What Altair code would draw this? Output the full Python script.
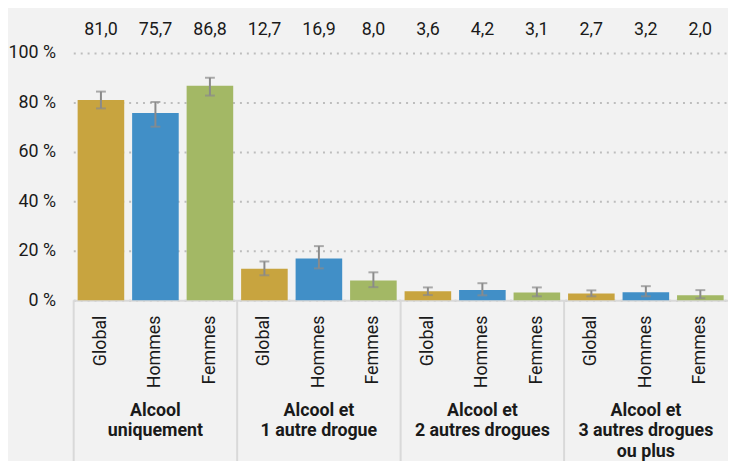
import altair as alt
import pandas as pd

groups = ["Alcool\nuniquement", "Alcool et\n1 autre drogue",
          "Alcool et\n2 autres drogues", "Alcool et\n3 autres drogues\nou plus"]
sexes = ["Global", "Hommes", "Femmes"]
values = [[81.0, 75.7, 86.8], [12.7, 16.9, 8.0], [3.6, 4.2, 3.1], [2.7, 3.2, 2.0]]
err_lo = [[77.6, 70.2, 82.8], [10.1, 12.9, 5.3], [2.1, 2.0, 1.6], [1.6, 1.6, 0.8]]
err_hi = [[84.4, 80.2, 90.0], [15.7, 21.9, 11.3], [5.2, 6.9, 5.2], [4.0, 5.7, 4.1]]
colors = ["#c8a43f", "#418fc7", "#a3b865"]
y_ticks = [0, 20, 40, 60, 80, 100]

FONT = "Roboto"
TXT = "#1a1a1a"

rows = []
keys = []
for gi, g in enumerate(groups):
    for si, s in enumerate(sexes):
        key = f"{gi}|{s}"
        keys.append(key)
        v = values[gi][si]
        rows.append({"key": key, "group": g, "sex": s, "value": v,
                     "lo": err_lo[gi][si], "hi": err_hi[gi][si],
                     "label": f"{v:.1f}".replace(".", ",")})
df = pd.DataFrame(rows)

gdf = pd.DataFrame({"key": [f"{i}|Hommes" for i in range(len(groups))],
                    "glabel": groups,
                    "sep": [f"{i}|Global" for i in range(len(groups))]})

xscale = alt.Scale(domain=keys, paddingInner=0.145, paddingOuter=0.08)
y_scale = alt.Scale(domain=[0, 100], nice=False)

x_enc = alt.X("key:N", scale=xscale, title=None,
              axis=alt.Axis(labelExpr="split(datum.label, '|')[1]",
                            labelAngle=270, labelAlign="right", labelBaseline="middle",
                            labelPadding=15, labelFontSize=18, labelFont=FONT,
                            labelColor=TXT, ticks=False, domainColor="#d9d9d9",
                            domainWidth=2, grid=False))

bars = alt.Chart(df).mark_bar().encode(
    x=x_enc,
    y=alt.Y("value:Q", scale=y_scale, title=None,
            axis=alt.Axis(values=y_ticks, labelExpr="datum.value + ' %'",
                          labelFontSize=18, labelFont=FONT, labelColor=TXT,
                          labelPadding=18, ticks=False, domain=False,
                          gridColor="#bdbdbd", gridDash=[2, 5], gridWidth=2)),
    color=alt.Color("sex:N", scale=alt.Scale(domain=sexes, range=colors), legend=None),
)

err = alt.Chart(df).mark_rule(color="#8a8a8a", strokeWidth=2).encode(
    x=alt.X("key:N", scale=xscale),
    y=alt.Y("lo:Q", scale=y_scale),
    y2="hi:Q",
)
cap_lo = alt.Chart(df).mark_tick(color="#8a8a8a", thickness=2, size=10).encode(
    x=alt.X("key:N", scale=xscale), y=alt.Y("lo:Q", scale=y_scale))
cap_hi = alt.Chart(df).mark_tick(color="#8a8a8a", thickness=2, size=10).encode(
    x=alt.X("key:N", scale=xscale), y=alt.Y("hi:Q", scale=y_scale))

vlabels = alt.Chart(df).mark_text(font=FONT, fontSize=18, color=TXT,
                                  baseline="alphabetic", align="center").encode(
    x=alt.X("key:N", scale=xscale), y=alt.value(-18), text="label:N")

glabels = alt.Chart(gdf).mark_text(font=FONT, fontSize=18, fontWeight="bold", color=TXT,
                                   baseline="alphabetic", align="center",
                                   lineBreak="\n", lineHeight=20.5).encode(
    x=alt.X("key:N", scale=xscale), y=alt.value(367), text="glabel:N")

seps = alt.Chart(gdf).mark_rule(color="#d9d9d9", strokeWidth=2, xOffset=-4).encode(
    x=alt.X("sep:N", scale=xscale, bandPosition=0),
    y=alt.value(250), y2=alt.value(420))

chart = alt.layer(seps, bars, err, cap_lo, cap_hi, vlabels, glabels).properties(
    width=662, height=250,
    autosize=alt.AutoSizeParams(type="none"),
    padding={"left": 66, "top": 43, "right": 0, "bottom": 160},
    background="#f2f2f2",
).configure_view(stroke=None)

chart.save("out.html", embed_options={"renderer": "svg", "actions": False})
